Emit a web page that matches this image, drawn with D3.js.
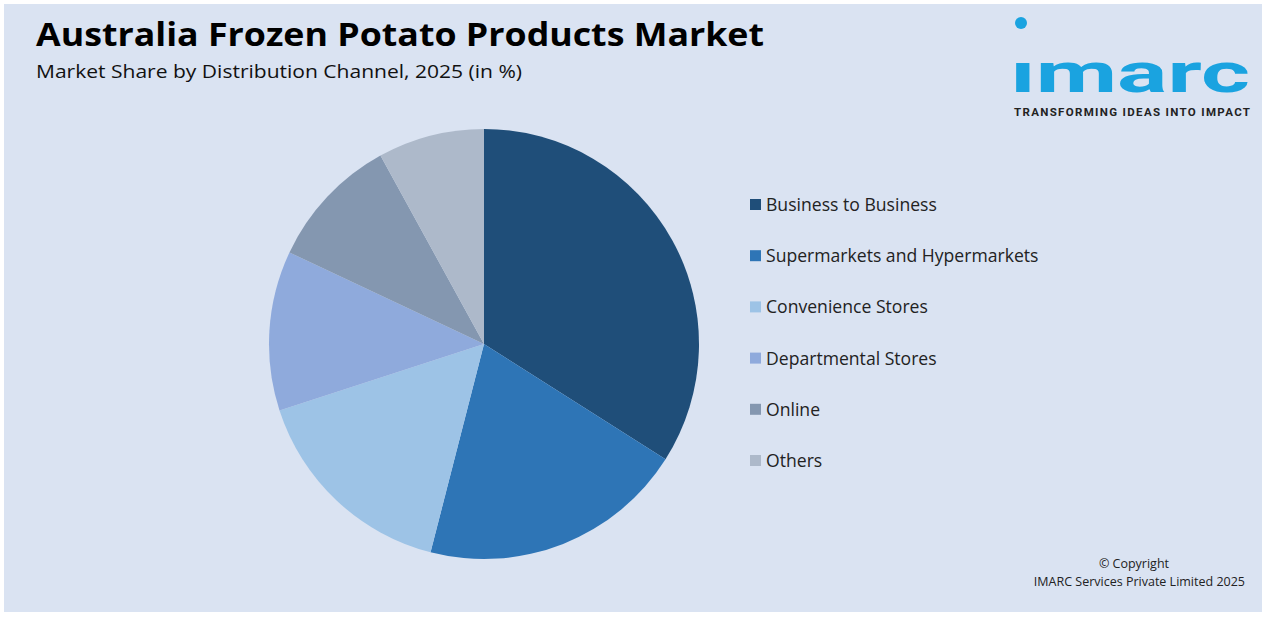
<!DOCTYPE html>
<html><head><meta charset="utf-8">
<script src="https://cdn.jsdelivr.net/npm/d3@7"></script>
<style>body{margin:0;background:#fff}</style></head>
<body><svg id="c" width="1266" height="617"></svg>
<script>
const categories=["Business to Business","Supermarkets and Hypermarkets","Convenience Stores","Departmental Stores","Online","Others"];
const values=[34,20,16,12,10,8];
const colors=["#1f4e79","#2e75b6","#9dc3e6","#8faadc","#8497b0","#adb9ca"];
const F="'Open Sans', Arial";
const svg=d3.select("#c");
svg.append("rect").attr("x",4).attr("y",4).attr("width",1258).attr("height",608).attr("fill","#dae3f2");
svg.append("text").attr("x",36).attr("y",46).attr("font-family",F).attr("font-weight","bold").attr("font-size",33).attr("fill","#000").attr("textLength",728).attr("lengthAdjust","spacingAndGlyphs").text("Australia Frozen Potato Products Market");
svg.append("text").attr("x",36).attr("y",78).attr("font-family",F).attr("font-size",18.5).attr("fill","#111").attr("textLength",486).attr("lengthAdjust","spacingAndGlyphs").text("Market Share by Distribution Channel, 2025 (in %)");
// logo
svg.append("text").attr("x",1010).attr("y",92).attr("font-family","Roboto, Arial").attr("font-weight","bold").attr("font-size",56).attr("fill","#1aa3e0").attr("textLength",240).attr("lengthAdjust","spacingAndGlyphs").text("ımarc");
svg.append("circle").attr("cx",1021).attr("cy",23).attr("r",6).attr("fill","#1aa3e0");
svg.append("text").attr("x",1014).attr("y",116).attr("font-family","Roboto, Arial").attr("font-weight","bold").attr("font-size",11.5).attr("fill","#222").attr("textLength",236).text("TRANSFORMING IDEAS INTO IMPACT");
const pie=d3.pie().sort(null).value(d=>d);
const arc=d3.arc().innerRadius(0).outerRadius(215);
const g=svg.append("g").attr("transform","translate(484,344)");
g.selectAll("path").data(pie(values)).join("path").attr("d",arc).attr("fill",(d,i)=>colors[i]);
const lg=svg.append("g");
categories.forEach((c,i)=>{
  const y=205+i*51.2;
  lg.append("rect").attr("x",750).attr("y",y-6).attr("width",11).attr("height",11).attr("fill",colors[i]);
  lg.append("text").attr("x",766).attr("y",y+6).attr("font-family",F).attr("font-size",17.6).attr("fill","#222").text(c);
});
svg.append("text").attr("x",1169).attr("y",568).attr("text-anchor","end").attr("font-family",F).attr("font-size",12.5).attr("fill","#222").text("© Copyright");
svg.append("text").attr("x",1245).attr("y",586).attr("text-anchor","end").attr("font-family",F).attr("font-size",12.5).attr("fill","#222").text("IMARC Services Private Limited 2025");
</script></body></html>
